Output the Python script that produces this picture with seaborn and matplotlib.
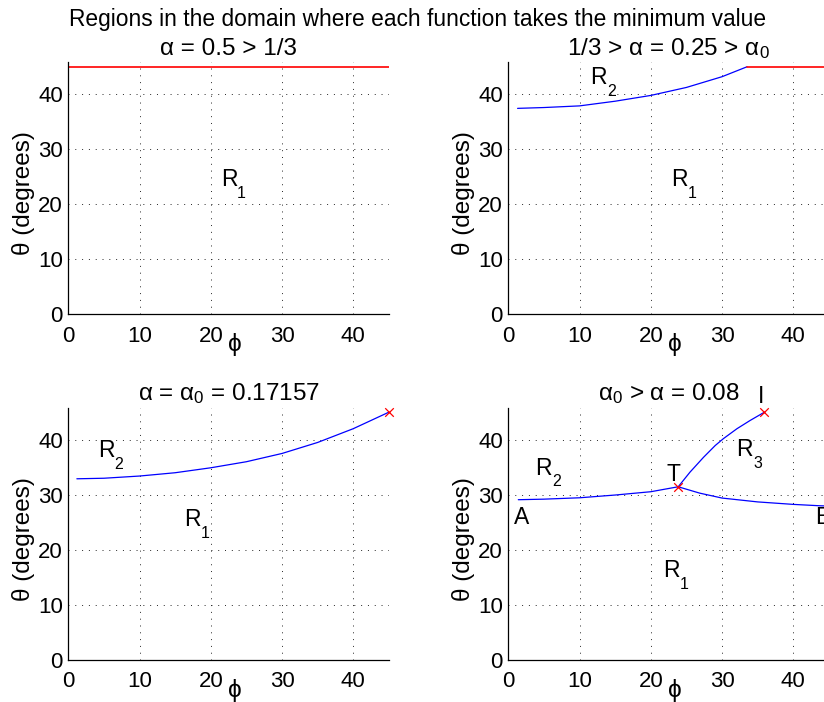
import numpy as np
import pandas as pd
import matplotlib
matplotlib.use("Agg")
import matplotlib.pyplot as plt
import seaborn as sns

# ── Data ──────────────────────────────────────────────────────────────
# top-left: alpha = 0.5
TL_RED_PHI   = [0, 45]
TL_RED_THETA = [45, 45]

# top-right: alpha = 0.25
TR_BLUE_PHI   = [1.3, 5, 10, 15, 20, 25, 30, 33.5]
TR_BLUE_THETA = [37.45, 37.6, 37.9, 38.75, 39.8, 41.25, 43.2, 45.0]
TR_RED_PHI    = [33.5, 45]
TR_RED_THETA  = [45, 45]

# bottom-left: alpha = alpha_0
BL_BLUE_PHI   = [1.2, 5, 10, 15, 20, 25, 30, 35, 40, 45]
BL_BLUE_THETA = [32.9, 33.0, 33.4, 34.0, 34.9, 36.0, 37.5, 39.5, 42.0, 45.0]
BL_MARK_PHI   = [45]
BL_MARK_THETA = [45]

# bottom-right: alpha = 0.08
BR_AT_PHI   = [1.4, 5, 10, 15, 20, 23.85]
BR_AT_THETA = [29.1, 29.2, 29.45, 29.95, 30.55, 31.45]
BR_TB_PHI   = [23.85, 26.85, 30, 35, 40, 43.7, 45]
BR_TB_THETA = [31.45, 30.3, 29.4, 28.7, 28.25, 28.0, 27.95]
BR_TI_PHI   = [23.85, 25.5, 27.4, 29.05, 30.2, 32.1, 33.95, 35.95]
BR_TI_THETA = [31.45, 34.1, 36.8, 38.95, 40.2, 42.0, 43.5, 45.0]
BR_MARK_PHI   = [23.85, 35.95]
BR_MARK_THETA = [31.45, 45.0]

TITLES = [r"α = 0.5 > 1/3",
          r"1/3 > α = 0.25 > α$_0$",
          r"α = α$_0$ = 0.17157",
          r"α$_0$ > α = 0.08"]
SUPTITLE = "Regions in the domain where each function takes the minimum value"

# region labels: (panel, text, subscript, phi, theta)
LABELS = [
    (0, "R", "1", 21.4, 23.4),
    (1, "R", "2", 11.55, 41.9),
    (1, "R", "1", 22.9, 23.4),
    (2, "R", "2", 4.2, 36.85),
    (2, "R", "1", 16.25, 24.3),
    (3, "R", "2", 3.8, 33.65),
    (3, "R", "3", 32.05, 36.95),
    (3, "R", "1", 21.7, 15.1),
    (3, "T", "", 22.2, 32.55),
    (3, "I", "", 35.1, 46.6),
    (3, "A", "", 0.8, 24.65),
    (3, "B", "", 43.1, 24.65),
]

# ── Style ─────────────────────────────────────────────────────────────
sns.set_style("white")
plt.rcParams["font.family"] = ["Liberation Sans", "DejaVu Sans"]
plt.rcParams["mathtext.default"] = "regular"
plt.rcParams["text.color"] = "black"
plt.rcParams["axes.labelcolor"] = "black"

TICK_FS  = 16
LABEL_FS = 17.5
TEXT_FS  = 16.5
SUB_FS   = 11.5

fig = plt.figure(figsize=(8.24, 7.02), dpi=100)

X0 = [0.0829, 0.6169]
Y0 = [0.552, 0.060]
W, H = 0.389, 0.3595
axes = [fig.add_axes([X0[c], Y0[r], W, H]) for r in range(2) for c in range(2)]


def line(ax, phi, theta, color, lw=0.9):
    df = pd.DataFrame({"phi": phi, "theta": theta})
    sns.lineplot(data=df, x="phi", y="theta", ax=ax, color=color,
                 sort=False, estimator=None, linewidth=lw)


def marks(ax, phi, theta):
    sns.scatterplot(x=phi, y=theta, ax=ax, marker="x", color="red",
                    s=38, linewidth=0.9, clip_on=False, zorder=5)


line(axes[0], TL_RED_PHI, TL_RED_THETA, "red", lw=1.2)
line(axes[1], TR_BLUE_PHI, TR_BLUE_THETA, "blue")
line(axes[1], TR_RED_PHI, TR_RED_THETA, "red", lw=1.2)
line(axes[2], BL_BLUE_PHI, BL_BLUE_THETA, "blue")
marks(axes[2], BL_MARK_PHI, BL_MARK_THETA)
line(axes[3], BR_AT_PHI, BR_AT_THETA, "blue")
line(axes[3], BR_TB_PHI, BR_TB_THETA, "blue")
line(axes[3], BR_TI_PHI, BR_TI_THETA, "blue")
marks(axes[3], BR_MARK_PHI, BR_MARK_THETA)

for i, ax in enumerate(axes):
    ax.set_xlim(0, 45)
    ax.set_ylim(0, 45.85)
    ax.set_xticks([0, 10, 20, 30, 40])
    ax.set_yticks([0, 10, 20, 30, 40])
    ax.grid(True, color="0.15", linestyle=(0, (1, 6)), linewidth=0.7)
    sns.despine(ax=ax)
    for s in ("left", "bottom"):
        ax.spines[s].set_color("black")
        ax.spines[s].set_linewidth(0.9)
    ax.tick_params(direction="in", length=3, width=0.6, labelsize=TICK_FS,
                   colors="black")
    ax.tick_params(axis="x", pad=8)
    ax.tick_params(axis="y", pad=4)
    ax.set_xlabel("ϕ", fontsize=LABEL_FS)
    ax.xaxis.set_label_coords(0.52, -0.075)
    ax.set_ylabel("θ (degrees)", fontsize=LABEL_FS)
    ax.yaxis.set_label_coords(-0.105, 0.48)
    ax.set_title(TITLES[i], fontsize=LABEL_FS, pad=5)

# region labels, MATLAB-style subscripts (dropped well below the baseline)
for panel, txt, sub, phi, theta in LABELS:
    ax = axes[panel]
    ax.text(phi, theta, txt, fontsize=TEXT_FS, ha="left",
            va="baseline", clip_on=False)
    if sub:
        ax.annotate(sub, xy=(phi, theta), xytext=(0.72 * TEXT_FS, -8.5),
                    textcoords="offset points", fontsize=SUB_FS,
                    ha="left", va="baseline")

fig.text(0.507, 0.963, SUPTITLE, fontsize=16.4, ha="center", va="baseline")

fig.savefig("out.png", dpi=100)
